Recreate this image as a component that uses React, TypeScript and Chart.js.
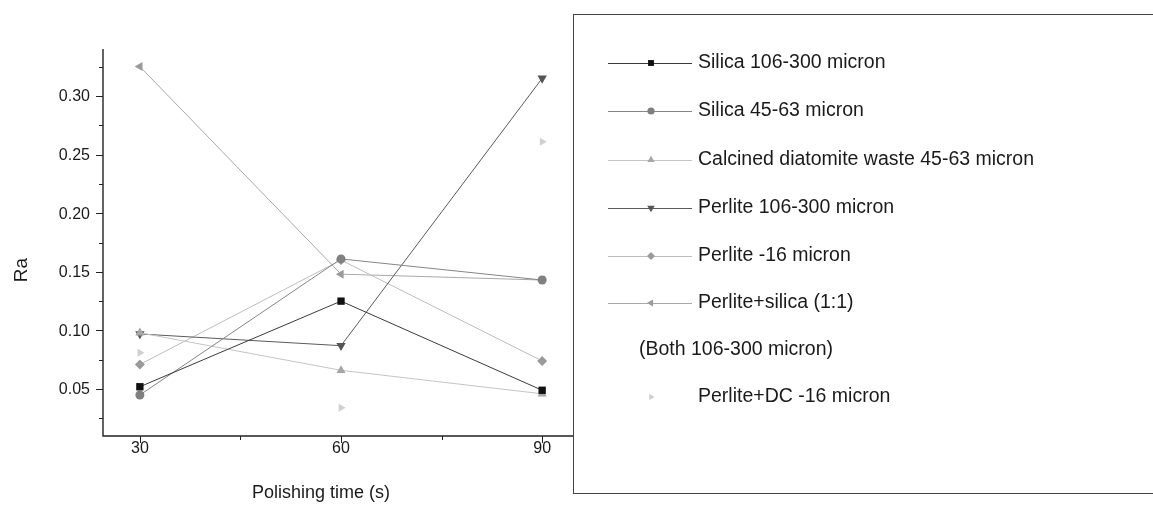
import React, { useEffect, useRef } from "react";
import { Chart, registerables } from "chart.js";

Chart.register(...registerables);

// ---- data ----
const times = [30, 60, 90];
const seriesNames = [
  "Silica 106-300 micron",
  "Silica 45-63 micron",
  "Calcined diatomite waste 45-63 micron",
  "Perlite 106-300 micron",
  "Perlite -16 micron",
  "Perlite+silica (1:1)",
  "Perlite+DC -16 micron",
];
const silica106 = [0.052, 0.125, 0.049];
const silica45 = [0.045, 0.161, 0.143];
const calcined = [0.098, 0.066, 0.046];
const perlite106 = [0.097, 0.087, 0.315];
const perlite16 = [0.071, 0.16, 0.074];
const perliteSilica = [0.325, 0.148, 0.143];
const perliteDC = [0.081, 0.034, 0.261];
const xMajorTicks = [30, 60, 90];
const xMinorTicks = [45, 75];
const yMajorTicks = [0.05, 0.1, 0.15, 0.2, 0.25, 0.3];
const yMinorTicks = [0.025, 0.075, 0.125, 0.175, 0.225, 0.275, 0.325];
const xTitle = "Polishing time (s)";
const yTitle = "Ra";
const legendNote = "(Both 106-300 micron)";

const seriesValues = [silica106, silica45, calcined, perlite106, perlite16, perliteSilica, perliteDC];
const markerStyles = ["rect", "circle", "triangle", "triangle", "rectRot", "triangle", "triangle"];
const markerRot = [0, 0, 0, 180, 0, -90, 90];
const markerRadius = [5.2, 4.5, 5.2, 5.4, 5, 5.2, 4.6];
const markerColors = ["#111111", "#808080", "#a6a6a6", "#555555", "#9a9a9a", "#9a9a9a", "#d0d0d0"];
const lineColors = ["#3a3a3a", "#858585", "#c4c4c4", "#5a5a5a", "#bdbdbd", "#a8a8a8", "rgba(0,0,0,0)"];
const showLines = [true, true, true, true, true, true, false];

const FONT = "'Liberation Sans', Arial, sans-serif";

function drawMarker(ctx: CanvasRenderingContext2D, style: string, rot: number, x: number, y: number, r: number, color: string) {
  ctx.save();
  ctx.translate(x, y);
  ctx.rotate((rot * Math.PI) / 180);
  ctx.fillStyle = color;
  ctx.beginPath();
  if (style === "rect") {
    const s = r * Math.SQRT1_2;
    ctx.rect(-s, -s, 2 * s, 2 * s);
  } else if (style === "circle") {
    ctx.arc(0, 0, r, 0, Math.PI * 2);
  } else if (style === "rectRot") {
    ctx.moveTo(0, -r);
    ctx.lineTo(r, 0);
    ctx.lineTo(0, r);
    ctx.lineTo(-r, 0);
    ctx.closePath();
  } else {
    ctx.moveTo(0, -r);
    ctx.lineTo(r * 0.87, r * 0.5);
    ctx.lineTo(-r * 0.87, r * 0.5);
    ctx.closePath();
  }
  ctx.fill();
  ctx.restore();
}

const decorPlugin = {
  id: "decor",
  afterDraw(chart: any) {
    const ctx: CanvasRenderingContext2D = chart.ctx;
    const xs = chart.scales.x;
    const ys = chart.scales.y;
    const { left, right, top, bottom } = chart.chartArea;
    ctx.save();
    ctx.strokeStyle = "#222";
    ctx.lineWidth = 1.4;
    // axes
    ctx.beginPath();
    ctx.moveTo(left, top);
    ctx.lineTo(left, bottom);
    ctx.lineTo(right, bottom);
    ctx.stroke();
    // ticks
    ctx.lineWidth = 1;
    ctx.beginPath();
    xMajorTicks.forEach((v) => {
      const px = Math.round(xs.getPixelForValue(v)) + 0.5;
      ctx.moveTo(px, bottom);
      ctx.lineTo(px, bottom + 7);
    });
    xMinorTicks.forEach((v) => {
      const px = Math.round(xs.getPixelForValue(v)) + 0.5;
      ctx.moveTo(px, bottom);
      ctx.lineTo(px, bottom + 4);
    });
    yMajorTicks.forEach((v) => {
      const py = Math.round(ys.getPixelForValue(v)) + 0.5;
      ctx.moveTo(left, py);
      ctx.lineTo(left - 7, py);
    });
    yMinorTicks.forEach((v) => {
      const py = Math.round(ys.getPixelForValue(v)) + 0.5;
      ctx.moveTo(left, py);
      ctx.lineTo(left - 4, py);
    });
    ctx.stroke();
    // tick labels
    ctx.fillStyle = "#1a1a1a";
    ctx.font = `16px ${FONT}`;
    ctx.textAlign = "center";
    ctx.textBaseline = "middle";
    xMajorTicks.forEach((v) => {
      ctx.fillText(String(v), xs.getPixelForValue(v), bottom + 13);
    });
    ctx.textAlign = "right";
    yMajorTicks.forEach((v) => {
      ctx.fillText(v.toFixed(2), left - 13, ys.getPixelForValue(v) + 1);
    });
    // titles
    ctx.font = `18px ${FONT}`;
    ctx.textAlign = "center";
    ctx.fillText(xTitle, 321, 493);
    ctx.save();
    ctx.translate(22, 270);
    ctx.rotate(-Math.PI / 2);
    ctx.font = `19px ${FONT}`;
    ctx.fillText(yTitle, 0, 0);
    ctx.restore();

    // legend box
    ctx.fillStyle = "#ffffff";
    ctx.fillRect(573, 14, 600, 479);
    ctx.strokeStyle = "#444";
    ctx.lineWidth = 1;
    ctx.strokeRect(573.5, 14.5, 600, 479);
    const rowYs = [63, 111, 160, 208, 256, 303, 350, 397];
    ctx.font = `19.5px ${FONT}`;
    ctx.textAlign = "left";
    ctx.textBaseline = "middle";
    let row = 0;
    for (let i = 0; i < seriesNames.length; i++) {
      if (i === 6) {
        ctx.fillStyle = "#1a1a1a";
        ctx.fillText(legendNote, 639, rowYs[row]);
        row++;
      }
      const y = rowYs[row];
      if (showLines[i]) {
        ctx.strokeStyle = lineColors[i];
        ctx.lineWidth = 1;
        ctx.beginPath();
        ctx.moveTo(608, y + 0.5);
        ctx.lineTo(692, y + 0.5);
        ctx.stroke();
      }
      drawMarker(ctx, markerStyles[i], markerRot[i], 651, y, markerRadius[i] * 0.8, markerColors[i]);
      ctx.fillStyle = "#1a1a1a";
      ctx.fillText(seriesNames[i], 698, y);
      row++;
    }
    ctx.restore();
  },
};

export default function App() {
  const ref = useRef<HTMLCanvasElement | null>(null);
  useEffect(() => {
    if (!ref.current) return;
    const datasets = seriesNames.map((name, i) => ({
      label: name,
      data: times.map((t, j) => ({ x: t, y: seriesValues[i][j] })),
      borderColor: lineColors[i],
      borderWidth: 1,
      showLine: showLines[i],
      pointStyle: markerStyles[i],
      pointRotation: markerRot[i],
      pointRadius: markerRadius[i],
      pointBackgroundColor: markerColors[i],
      pointBorderColor: markerColors[i],
      pointBorderWidth: 0,
      fill: false,
      tension: 0,
    }));
    const chart = new Chart(ref.current, {
      type: "line",
      data: { datasets },
      options: {
        animation: false,
        responsive: false,
        devicePixelRatio: 1,
        layout: { padding: { left: 103, top: 49, right: 580, bottom: 83 } },
        scales: {
          x: { type: "linear", min: 24.5, max: 94.6, display: false },
          y: { type: "linear", min: 0.01, max: 0.34, display: false },
        },
        plugins: { legend: { display: false }, tooltip: { enabled: false } },
      },
      plugins: [decorPlugin],
    } as any);
    return () => chart.destroy();
  }, []);
  return (
    <div style={{ position: "absolute", left: 0, top: 0, width: 1153, height: 519, background: "#fff" }}>
      <canvas ref={ref} width={1153} height={519} />
    </div>
  );
}
